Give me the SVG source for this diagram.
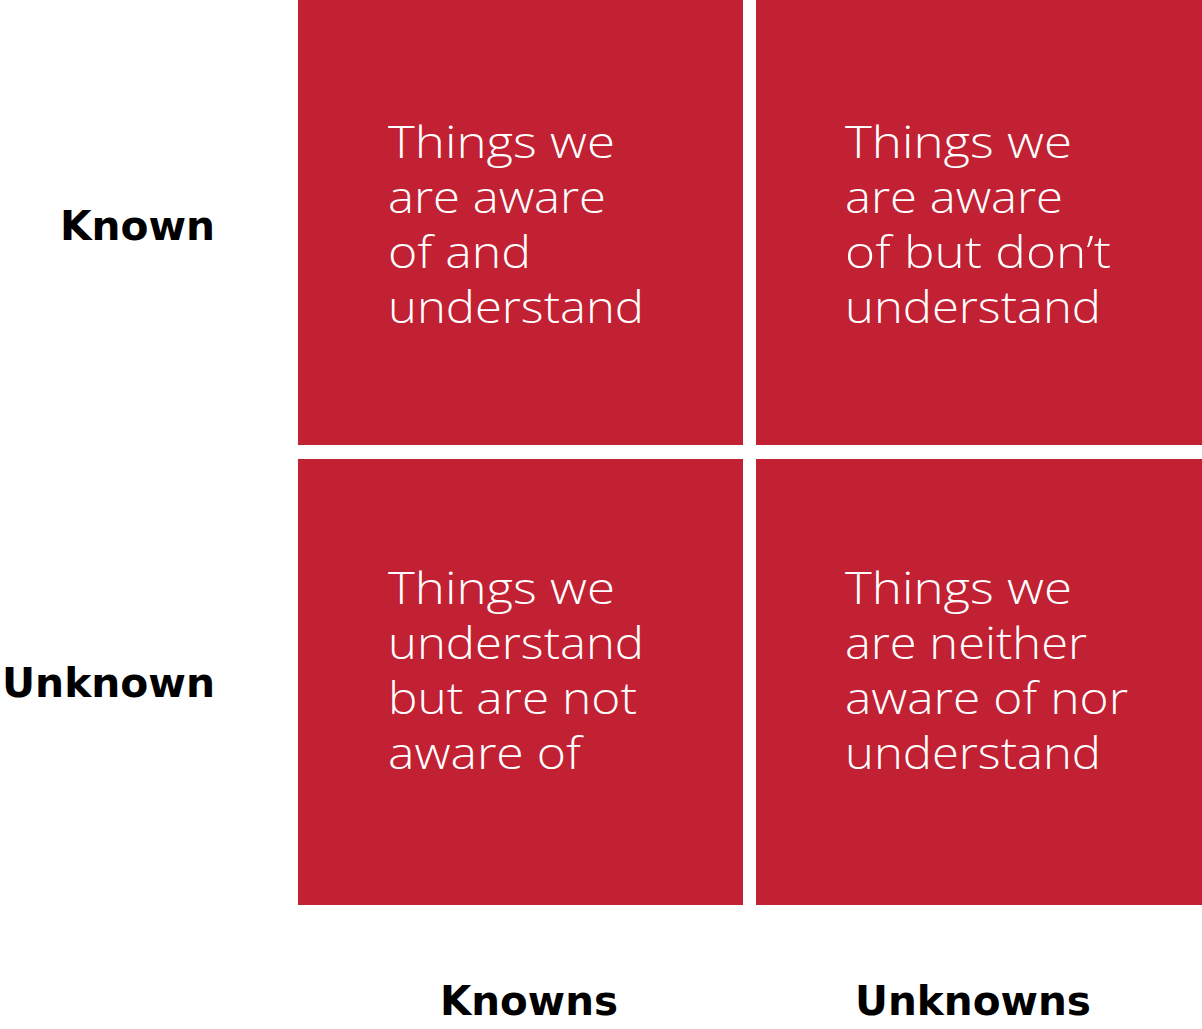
<svg xmlns="http://www.w3.org/2000/svg" width="1202" height="1029" viewBox="0 0 1202 1029">
  <style>
    .cell { fill: #C22033; }
    .body { font-family: "Open Sans", "DejaVu Sans", sans-serif; font-weight: 300; font-size: 45px; fill: #FFFFFF; }
    .axis { font-family: "DejaVu Sans", "Liberation Sans", sans-serif; font-weight: 700; font-size: 40px; fill: #000000; }
  </style>
  <rect width="1202" height="1029" fill="#FFFFFF"/>

  <g id="known-known">
    <rect class="cell" x="298" y="0" width="445" height="445"/>
    <text class="body">
      <tspan x="388" y="158" textLength="227" lengthAdjust="spacingAndGlyphs">Things we</tspan>
      <tspan x="388" y="213" textLength="218" lengthAdjust="spacingAndGlyphs">are aware</tspan>
      <tspan x="388" y="268" textLength="143" lengthAdjust="spacingAndGlyphs">of and</tspan>
      <tspan x="388" y="323" textLength="256" lengthAdjust="spacingAndGlyphs">understand</tspan>
    </text>
  </g>

  <g id="known-unknown">
    <rect class="cell" x="756" y="0" width="446" height="445"/>
    <text class="body">
      <tspan x="845" y="158" textLength="227" lengthAdjust="spacingAndGlyphs">Things we</tspan>
      <tspan x="845" y="213" textLength="218" lengthAdjust="spacingAndGlyphs">are aware</tspan>
      <tspan x="845" y="268" textLength="266" lengthAdjust="spacingAndGlyphs">of but don’t</tspan>
      <tspan x="845" y="323" textLength="256" lengthAdjust="spacingAndGlyphs">understand</tspan>
    </text>
  </g>

  <g id="unknown-known">
    <rect class="cell" x="298" y="459" width="445" height="446"/>
    <text class="body">
      <tspan x="388" y="604" textLength="227" lengthAdjust="spacingAndGlyphs">Things we</tspan>
      <tspan x="388" y="659" textLength="256" lengthAdjust="spacingAndGlyphs">understand</tspan>
      <tspan x="388" y="714" textLength="249" lengthAdjust="spacingAndGlyphs">but are not</tspan>
      <tspan x="388" y="769" textLength="193" lengthAdjust="spacingAndGlyphs">aware of</tspan>
    </text>
  </g>

  <g id="unknown-unknown">
    <rect class="cell" x="756" y="459" width="446" height="446"/>
    <text class="body">
      <tspan x="845" y="604" textLength="227" lengthAdjust="spacingAndGlyphs">Things we</tspan>
      <tspan x="845" y="659" textLength="242" lengthAdjust="spacingAndGlyphs">are neither</tspan>
      <tspan x="845" y="714" textLength="283" lengthAdjust="spacingAndGlyphs">aware of nor</tspan>
      <tspan x="845" y="769" textLength="256" lengthAdjust="spacingAndGlyphs">understand</tspan>
    </text>
  </g>

  <g id="row-labels">
    <text class="axis" x="60" y="240" textLength="155" lengthAdjust="spacingAndGlyphs">Known</text>
    <text class="axis" x="2" y="697" textLength="213" lengthAdjust="spacingAndGlyphs">Unknown</text>
  </g>
  <g id="column-labels">
    <text class="axis" x="440" y="1015" textLength="178" lengthAdjust="spacingAndGlyphs">Knowns</text>
    <text class="axis" x="855" y="1015" textLength="236" lengthAdjust="spacingAndGlyphs">Unknowns</text>
  </g>
</svg>
